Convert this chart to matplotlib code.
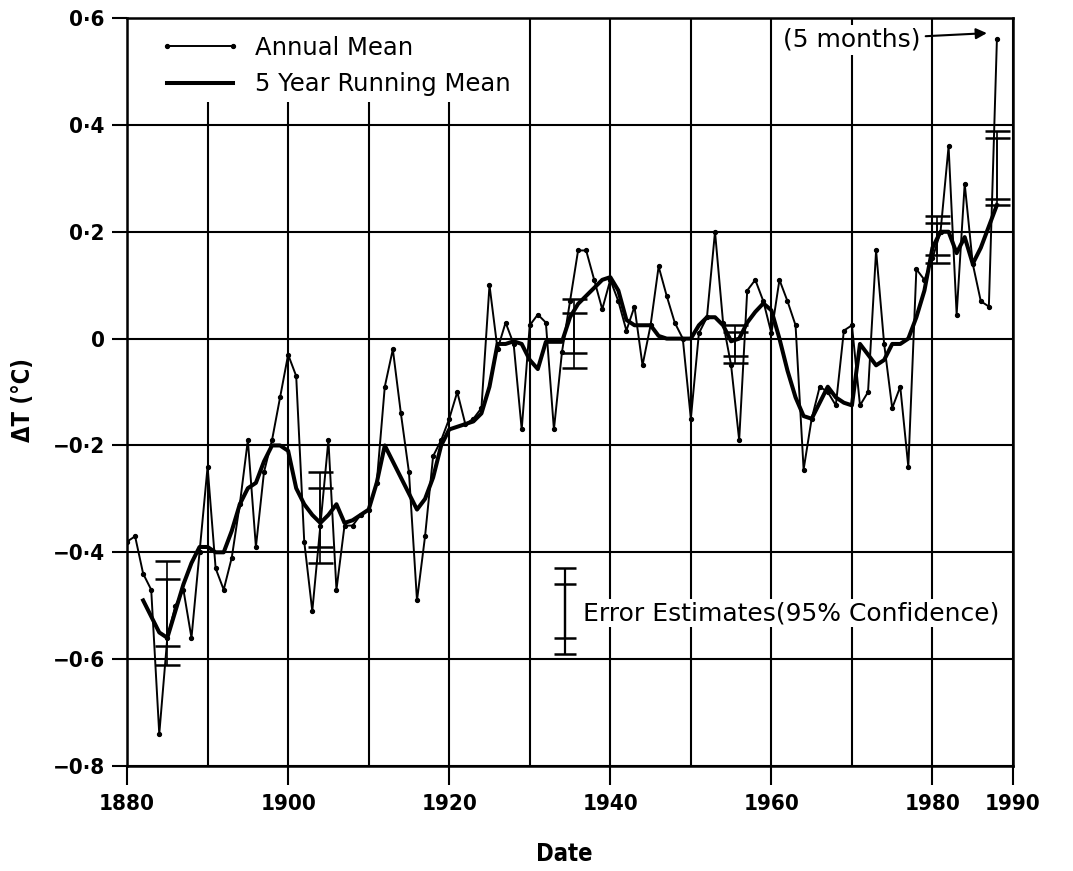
import matplotlib
matplotlib.use("Agg")
import matplotlib.pyplot as plt
from matplotlib import font_manager as fm
from matplotlib.lines import Line2D
from matplotlib.patches import Rectangle
import numpy as np

# ---------------- data ----------------
annual_years = list(range(1880, 1989))
annual_values = [
    -0.38, -0.37, -0.44, -0.47, -0.74, -0.56, -0.50, -0.47, -0.56, -0.40,   # 1880-89
    -0.24, -0.43, -0.47, -0.41, -0.31, -0.19, -0.39, -0.25, -0.19, -0.11,   # 1890-99
    -0.03, -0.07, -0.38, -0.51, -0.35, -0.19, -0.47, -0.35, -0.35, -0.33,   # 1900-09
    -0.32, -0.27, -0.09, -0.02, -0.14, -0.25, -0.49, -0.37, -0.22, -0.19,   # 1910-19
    -0.15, -0.10, -0.16, -0.15, -0.13, 0.10, -0.02, 0.03, -0.01, -0.17,     # 1920-29
    0.025, 0.045, 0.03, -0.17, -0.025, 0.07, 0.165, 0.165, 0.11, 0.055,     # 1930-39
    0.11, 0.07, 0.015, 0.06, -0.05, 0.025, 0.135, 0.08, 0.03, 0.0,          # 1940-49
    -0.15, 0.01, 0.04, 0.20, 0.03, -0.05, -0.19, 0.09, 0.11, 0.07,          # 1950-59
    0.01, 0.11, 0.07, 0.025, -0.245, -0.15, -0.09, -0.10, -0.125, 0.015,    # 1960-69
    0.025, -0.125, -0.10, 0.165, -0.01, -0.13, -0.09, -0.24, 0.13, 0.11,    # 1970-79
    0.15, 0.20, 0.36, 0.045, 0.29, 0.14, 0.07, 0.06, 0.56,                  # 1980-88 (1988: 5 months)
]

running_years = list(range(1882, 1989))
running_values = [
    -0.49, -0.52, -0.55, -0.56, -0.51, -0.46, -0.42, -0.39,                 # 1882-89
    -0.39, -0.40, -0.40, -0.36, -0.31, -0.28, -0.27, -0.23, -0.20, -0.20,   # 1890-99
    -0.21, -0.28, -0.31, -0.33, -0.345, -0.33, -0.31, -0.345, -0.34, -0.33, # 1900-09
    -0.32, -0.27, -0.20, -0.23, -0.26, -0.29, -0.32, -0.30, -0.26, -0.20,   # 1910-19
    -0.17, -0.165, -0.16, -0.155, -0.14, -0.09, -0.01, -0.01, -0.005, -0.01,# 1920-29
    -0.04, -0.057, -0.006, -0.006, -0.006, 0.04, 0.065, 0.08, 0.095, 0.11,  # 1930-39
    0.115, 0.09, 0.035, 0.025, 0.025, 0.025, 0.005, 0.0, 0.0, 0.0,         # 1940-49
    0.0, 0.025, 0.04, 0.04, 0.025, -0.005, 0.0, 0.03, 0.05, 0.066,         # 1950-59
    0.053, 0.0, -0.06, -0.11, -0.145, -0.15, -0.12, -0.09, -0.11, -0.12,   # 1960-69
    -0.125, -0.01, -0.03, -0.05, -0.04, -0.01, -0.01, 0.0, 0.04, 0.09,     # 1970-79
    0.17, 0.20, 0.20, 0.16, 0.19, 0.14, 0.17, 0.21, 0.25,                  # 1980-88
]

# error estimates (95% confidence): centre, outer and inner half widths
err_years = [1885, 1904, 1935.5, 1955.5, 1980.5, 1988]
err_center = [-0.513, -0.335, 0.01, -0.01, 0.186, 0.319]
err_outer = [0.097, 0.085, 0.065, 0.035, 0.044, 0.069]
err_inner = [0.063, 0.055, 0.0375, 0.0225, 0.03, 0.057]

# error-bar key
key_year = [1934.4]
key_center = [-0.51]
key_outer = [0.08]
key_inner = [0.05]

xticks_major = [1880, 1900, 1920, 1940, 1960, 1980, 1990]
xticks_minor = [1890, 1910, 1930, 1950, 1970]
yticks = [-0.8, -0.6, -0.4, -0.2, 0.0, 0.2, 0.4, 0.6]
ytick_labels = ["\u22120\u00b78", "\u22120\u00b76", "\u22120\u00b74", "\u22120\u00b72",
                "0", "0\u00b72", "0\u00b74", "0\u00b76"]

# ---------------- fonts ----------------
names = {f.name for f in fm.fontManager.ttflist}
if "Liberation Sans Narrow" in names:
    tick_font = fm.FontProperties(family=["Liberation Sans Narrow", "DejaVu Sans"],
                                  weight="bold", size=18)
else:
    tick_font = fm.FontProperties(family=["DejaVu Sans"], stretch="condensed",
                                  weight="bold", size=16)
legend_font = fm.FontProperties(family=["DejaVu Sans"], size=17.5)
text_font = fm.FontProperties(family=["DejaVu Sans"], size=18)
label_font = fm.FontProperties(family=["DejaVu Sans"], stretch="condensed",
                               weight="bold", size=17)

# ---------------- figure ----------------
fig = plt.figure(figsize=(10.73, 8.71), dpi=100)
ax = fig.add_axes([0.1184, 0.1205, 0.8257, 0.8588])
ax.set_xlim(1880, 1990)
ax.set_ylim(-0.8, 0.6)
ax.set_axisbelow(True)

ax.set_xticks(xticks_major)
ax.set_xticks(xticks_minor, minor=True)
ax.set_xticklabels([str(t) for t in xticks_major], fontproperties=tick_font)
ax.set_yticks(yticks)
ax.set_yticklabels(ytick_labels, fontproperties=tick_font)
ax.grid(which="both", color="black", linewidth=1.5)
ax.tick_params(axis="x", which="major", length=14, width=1.5, pad=6, direction="out")
ax.tick_params(axis="x", which="minor", length=0)
ax.tick_params(axis="y", which="major", length=11, width=1.5, pad=5, direction="out")
for s in ax.spines.values():
    s.set_linewidth(1.8)

# white area behind the legend hides the grid there
ax.add_patch(Rectangle((1880, 0.442), 49.5, 0.158, facecolor="white",
                       edgecolor="none", zorder=1))

# data
ax.plot(annual_years, annual_values, color="black", linewidth=1.4,
        marker="o", markersize=2.8, zorder=4)
ax.plot(running_years, running_values, color="black", linewidth=2.9,
        solid_joinstyle="round", zorder=4)

# error bars
for half in (err_outer, err_inner):
    ax.errorbar(err_years, err_center, yerr=half, fmt="none", ecolor="black",
                elinewidth=1.2, capsize=9, capthick=1.8, zorder=3)
for half in (key_outer, key_inner):
    ax.errorbar(key_year, key_center, yerr=half, fmt="none", ecolor="black",
                elinewidth=1.6, capsize=8, capthick=1.8, zorder=3)

ax.text(1936.6, -0.514, "Error Estimates(95% Confidence)", fontproperties=text_font,
        ha="left", va="center", zorder=6,
        bbox=dict(facecolor="white", edgecolor="none", pad=1.5))

# legend
h1 = Line2D([], [], color="black", linewidth=1.4, marker="o", markersize=2.8)
h2 = Line2D([], [], color="black", linewidth=2.9)
leg = ax.legend([h1, h2], ["Annual Mean", "5 Year Running Mean"],
                loc="upper left", bbox_to_anchor=(0.037, 0.976), frameon=False,
                numpoints=2, handlelength=3.3, handletextpad=0.6,
                labelspacing=0.5, borderpad=0, borderaxespad=0, prop=legend_font)

# (5 months) annotation
ax.annotate("(5 months)", xy=(1987.1, 0.572), xytext=(1961.4, 0.559),
            fontproperties=text_font, ha="left", va="center", zorder=6,
            bbox=dict(facecolor="white", edgecolor="none", pad=2),
            arrowprops=dict(arrowstyle="-|>", color="black", lw=1.5,
                            mutation_scale=16, shrinkA=2, shrinkB=2))

# axis labels
ax.set_xlabel("Date", fontproperties=label_font)
ax.xaxis.set_label_coords(0.494, -0.102)
ax.set_ylabel("\u0394T (\u00b0C)", fontproperties=label_font)
ax.yaxis.set_label_coords(-0.104, 0.49)

fig.savefig("out.png", dpi=100)
